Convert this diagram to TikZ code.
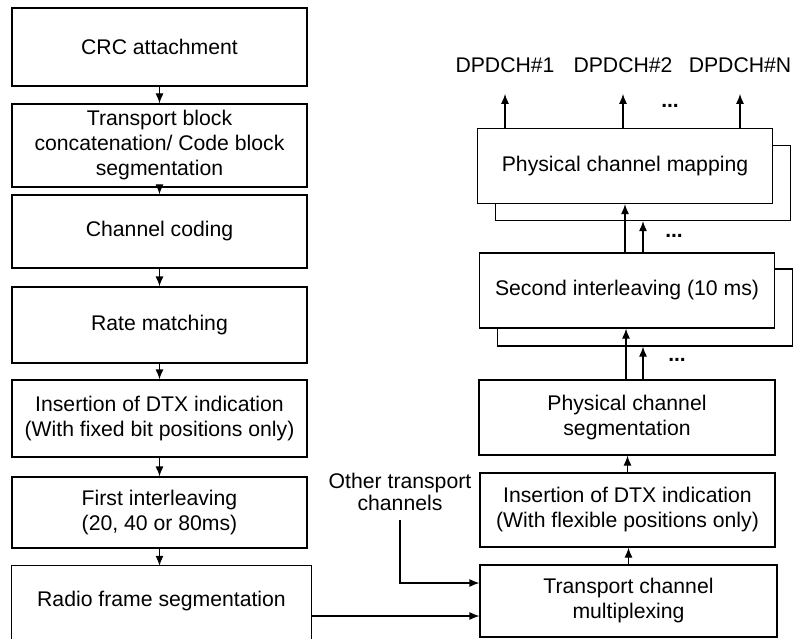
\documentclass[tikz,border=0pt]{standalone}
\usepackage{fontspec}
\setmainfont{Liberation Sans}
\usetikzlibrary{arrows.meta}
\begin{document}
\begin{tikzpicture}[x=1pt,y=-1pt,
  txt/.style={align=center,inner sep=0pt,font=\fontsize{21.2}{25}\selectfont},
  box/.style={txt,draw,line width=1.2pt,fill=white,shape=rectangle},
  arr/.style={-{Latex[length=10pt,width=8pt]},line width=1.2pt},
  dots/.style={inner sep=0pt,font=\fontsize{21}{24}\selectfont\bfseries}]
\useasboundingbox (0,0) rectangle (795,639);
% left column
\node[box,minimum width=295,minimum height=78] (crc) at (159.5,47) {CRC attachment};
\node[box,minimum width=295,minimum height=83] (tb) at (159.5,145.5) {Transport block\\concatenation/ Code block\\segmentation};
\node[box,minimum width=295,minimum height=73] (cc) at (159.5,231.5) {Channel coding};
\node[box,minimum width=295,minimum height=76] (rm) at (159.5,325) {Rate matching};
\node[box,minimum width=295,minimum height=77] (dtxa) at (159.5,418.5) {Insertion of DTX indication\\(With fixed bit positions only)};
\node[box,minimum width=295,minimum height=71] (fi) at (159.5,512.5) {First interleaving\\(20, 40 or 80ms)};
\node[txt,minimum width=299,minimum height=70] (rfs) at (161.5,601) {Radio frame segmentation};
\draw[line width=1.2pt] ([yshift=-6pt]rfs.south west) |- (rfs.north east) -- ([yshift=-6pt]rfs.south east);
\draw[arr] (crc.south) -- (tb.north);
\draw[arr] (tb.south) -- (cc.north);
\draw[arr] (cc.south) -- (rm.north);
\draw[arr] (rm.south) -- (dtxa.north);
\draw[arr] (dtxa.south) -- (fi.north);
\draw[arr] (fi.south) -- (fi.south |- rfs.north);
% right column
\node[box,minimum width=295,minimum height=75] (pcms) at (643,183) {};
\node[box,minimum width=295,minimum height=75] (pcm) at (625,166) {Physical channel mapping};
\node[box,minimum width=295,minimum height=77] (sis) at (645,307.5) {};
\node[box,minimum width=295,minimum height=75] (si) at (627,290.5) {Second interleaving (10 ms)};
\node[box,minimum width=296,minimum height=75] (pcs) at (627,417.5) {Physical channel\\segmentation};
\node[box,minimum width=295,minimum height=74] (dtxb) at (627.5,510) {Insertion of DTX indication\\(With flexible positions only)};
\node[box,minimum width=297,minimum height=72] (tcm) at (628.5,601) {Transport channel\\multiplexing};
\draw[arr] (tcm.north) -- (tcm.north |- dtxb.south);
\draw[arr] (dtxb.north) -- (dtxb.north |- pcs.south);
\draw[arr] ([xshift=-1pt]pcs.north) -- ([xshift=-1pt]pcs.north |- si.south);
\draw[arr] ([xshift=16pt]pcs.north) -- ([xshift=16pt]pcs.north |- sis.south);
\node[dots] (dt3) at (677,360) {...};
\draw[arr] ([xshift=-2pt]si.north) -- ([xshift=-2pt]si.north |- pcm.south);
\draw[arr] ([xshift=16pt]si.north) -- ([xshift=16pt]si.north |- pcms.south);
\node[dots] (dt2) at (674,236) {...};
% outputs
\node[txt] (d1) at (505,65) {DPDCH\#1};
\node[txt] (d2) at (623,65) {DPDCH\#2};
\node[txt] (d3) at (740,65) {DPDCH\#N};
\draw[arr] (pcm.north -| d1) -- ++(0,-34);
\draw[arr] (pcm.north -| d2) -- ++(0,-34);
\draw[arr] (pcm.north -| d3) -- ++(0,-34);
\node[dots] (dt1) at (670,106) {...};
% other transport channels
\node[txt,font=\fontsize{21.2}{22}\selectfont] (oth) at (400,492) {Other transport\\channels};
\draw[arr] ([yshift=-9pt]oth.south) |- ([yshift=18pt]tcm.west);
\draw[arr] ([yshift=-15pt]rfs.east) -- ([yshift=-15pt]rfs.east -| tcm.west);
\end{tikzpicture}
\end{document}
